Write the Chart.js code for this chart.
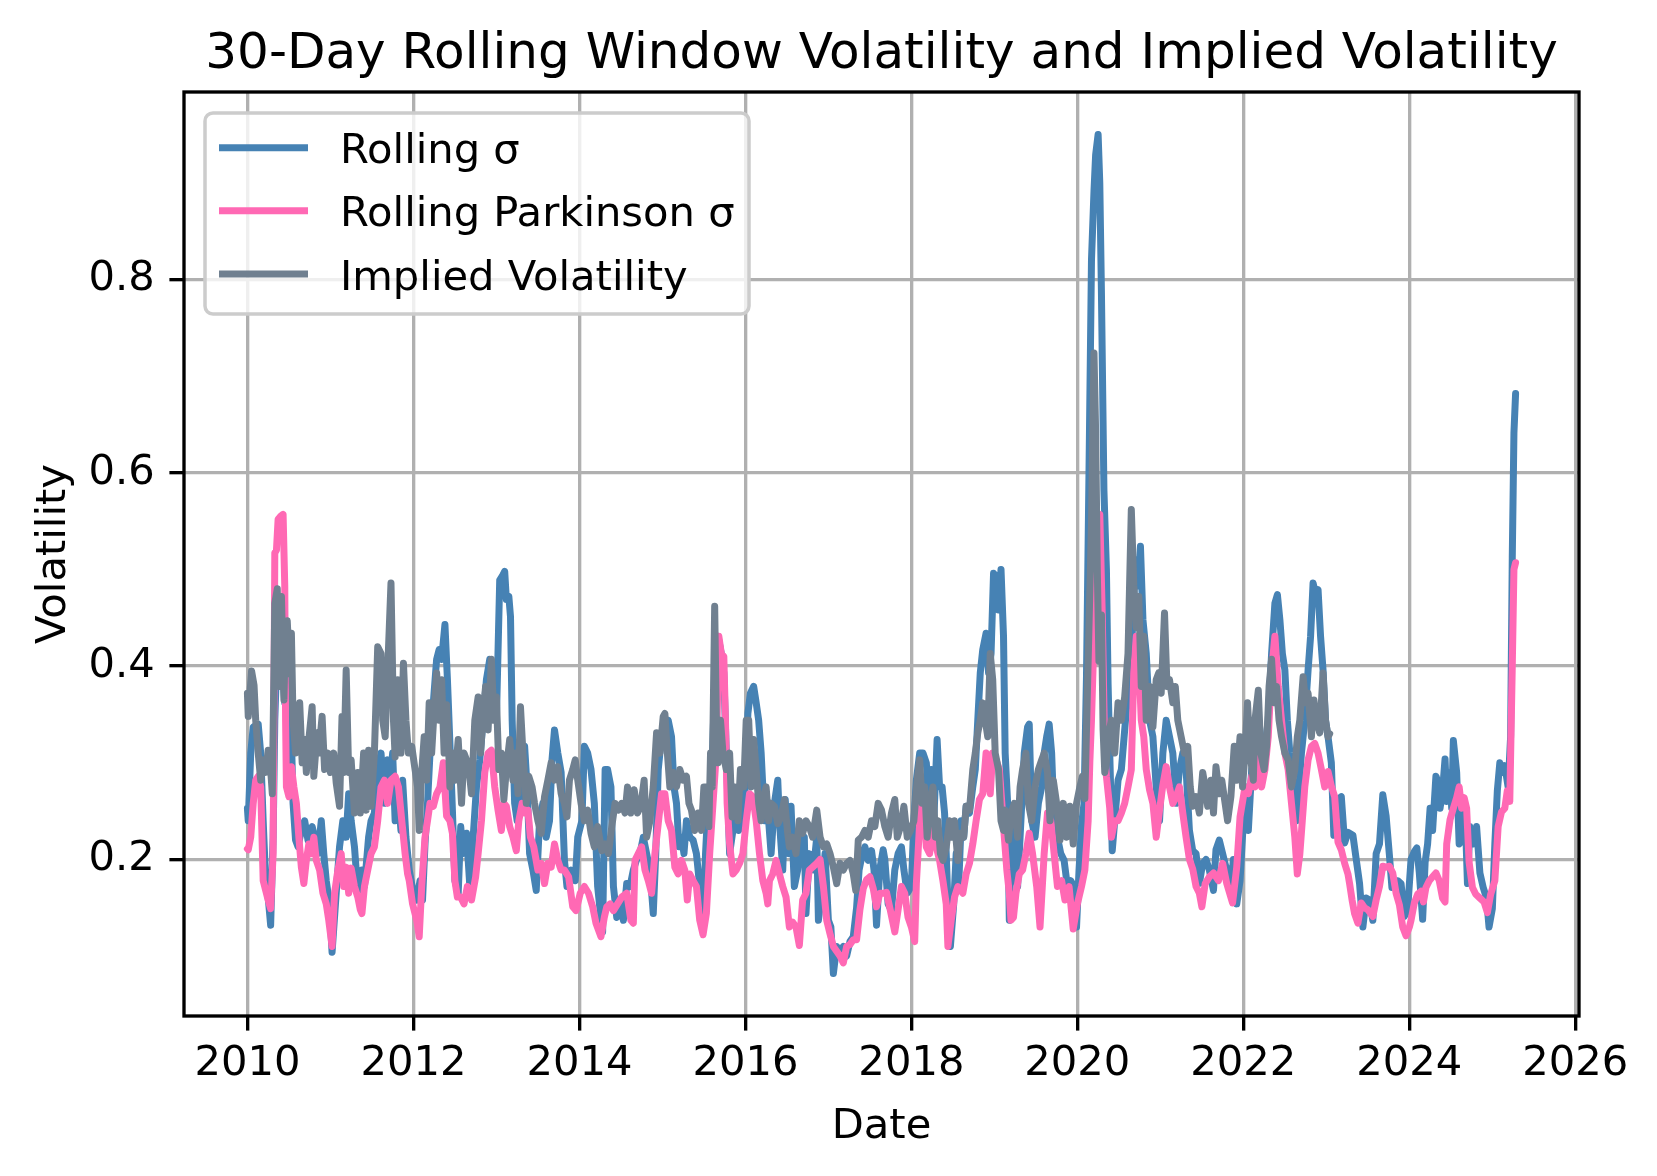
<!DOCTYPE html>
<html><head><meta charset="utf-8">
<script src="https://cdn.jsdelivr.net/npm/chart.js@4.4.1/dist/chart.umd.min.js"></script>
<style>html,body{margin:0;padding:0;background:#fff;}canvas{display:block;}</style>
</head><body>
<canvas id="c" width="1657" height="1176" style="width:1657px;height:1176px"></canvas>
<script>
const TITLE = "30-Day Rolling Window Volatility and Implied Volatility";
const X_LABEL = "Date";
const Y_LABEL = "Volatility";
const SERIES_NAMES = ["Rolling σ", "Rolling Parkinson σ", "Implied Volatility"];
const X_TICKS = [2010, 2012, 2014, 2016, 2018, 2020, 2022, 2024, 2026];
const Y_TICKS = [0.2, 0.4, 0.6, 0.8];

// [decimal year, value]
const rollingSigma = [
[2010.00,0.253],[2010.01,0.24],[2010.04,0.31],[2010.07,0.337],[2010.13,0.34],[2010.16,0.31],[2010.19,0.24],[2010.22,0.178],[2010.25,0.161],[2010.28,0.132],
[2010.31,0.223],[2010.33,0.344],[2010.37,0.448],[2010.41,0.413],[2010.45,0.362],[2010.48,0.44],[2010.53,0.327],[2010.55,0.258],[2010.58,0.22],[2010.61,0.213],
[2010.65,0.23],[2010.69,0.24],[2010.73,0.22],[2010.78,0.234],[2010.81,0.223],[2010.85,0.206],[2010.89,0.24],[2010.92,0.206],[2010.95,0.178],[2010.99,0.154],
[2011.02,0.104],[2011.07,0.165],[2011.11,0.213],[2011.15,0.24],[2011.19,0.223],[2011.22,0.268],[2011.25,0.24],[2011.29,0.213],[2011.32,0.178],[2011.35,0.165],
[2011.38,0.189],[2011.41,0.172],[2011.46,0.223],[2011.49,0.24],[2011.53,0.248],[2011.57,0.293],[2011.61,0.31],[2011.65,0.258],[2011.69,0.303],[2011.71,0.275],
[2011.75,0.31],[2011.78,0.24],[2011.81,0.275],[2011.85,0.23],[2011.87,0.282],[2011.91,0.223],[2011.95,0.189],[2012.00,0.165],[2012.04,0.158],[2012.08,0.178],
[2012.11,0.158],[2012.14,0.216],[2012.17,0.258],[2012.20,0.31],[2012.24,0.362],[2012.28,0.407],[2012.31,0.417],[2012.34,0.407],[2012.38,0.443],[2012.41,0.386],
[2012.46,0.275],[2012.50,0.178],[2012.54,0.165],[2012.57,0.234],[2012.60,0.206],[2012.64,0.227],[2012.68,0.172],[2012.72,0.223],[2012.76,0.275],[2012.80,0.303],
[2012.84,0.344],[2012.88,0.386],[2012.92,0.407],[2012.96,0.372],[2013.00,0.344],[2013.04,0.489],[2013.07,0.493],[2013.10,0.498],[2013.12,0.469],[2013.15,0.472],
[2013.17,0.451],[2013.19,0.344],[2013.22,0.258],[2013.25,0.24],[2013.28,0.258],[2013.31,0.275],[2013.34,0.317],[2013.37,0.275],[2013.40,0.206],[2013.44,0.189],
[2013.48,0.168],[2013.52,0.24],[2013.56,0.258],[2013.60,0.223],[2013.64,0.24],[2013.67,0.303],[2013.70,0.334],[2013.74,0.31],[2013.78,0.29],[2013.82,0.199],
[2013.85,0.172],[2013.90,0.189],[2013.95,0.178],[2013.98,0.223],[2014.03,0.24],[2014.06,0.317],[2014.10,0.31],[2014.14,0.293],[2014.18,0.258],[2014.22,0.172],
[2014.25,0.147],[2014.28,0.125],[2014.31,0.293],[2014.34,0.293],[2014.38,0.275],[2014.41,0.172],[2014.45,0.14],[2014.49,0.154],[2014.53,0.137],[2014.57,0.175],
[2014.61,0.172],[2014.65,0.189],[2014.69,0.2],[2014.73,0.206],[2014.77,0.223],[2014.81,0.206],[2014.85,0.189],[2014.89,0.144],[2014.92,0.206],[2014.95,0.293],
[2014.99,0.327],[2015.03,0.327],[2015.07,0.344],[2015.11,0.327],[2015.14,0.275],[2015.17,0.258],[2015.20,0.213],[2015.23,0.223],[2015.26,0.206],[2015.29,0.24],
[2015.33,0.223],[2015.37,0.22],[2015.41,0.206],[2015.45,0.172],[2015.49,0.13],[2015.52,0.206],[2015.55,0.258],[2015.59,0.275],[2015.63,0.379],[2015.67,0.431],
[2015.71,0.413],[2015.74,0.393],[2015.77,0.31],[2015.81,0.206],[2015.85,0.23],[2015.89,0.258],[2015.92,0.23],[2015.96,0.24],[2016.00,0.275],[2016.03,0.351],
[2016.06,0.372],[2016.10,0.379],[2016.13,0.362],[2016.16,0.344],[2016.19,0.31],[2016.23,0.24],[2016.25,0.258],[2016.28,0.24],[2016.31,0.206],[2016.35,0.258],
[2016.39,0.282],[2016.41,0.24],[2016.45,0.189],[2016.48,0.262],[2016.52,0.206],[2016.55,0.255],[2016.59,0.172],[2016.63,0.189],[2016.67,0.223],[2016.71,0.223],
[2016.73,0.144],[2016.77,0.206],[2016.82,0.189],[2016.86,0.223],[2016.88,0.137],[2016.92,0.165],[2016.96,0.206],[2017.00,0.137],[2017.03,0.13],[2017.06,0.082],
[2017.10,0.11],[2017.14,0.105],[2017.18,0.11],[2017.22,0.10],[2017.26,0.115],[2017.30,0.12],[2017.34,0.15],[2017.37,0.189],[2017.41,0.206],[2017.44,0.213],
[2017.48,0.199],[2017.52,0.209],[2017.55,0.189],[2017.58,0.132],[2017.62,0.19],[2017.66,0.21],[2017.68,0.2],[2017.72,0.154],[2017.76,0.147],[2017.80,0.189],
[2017.84,0.206],[2017.88,0.213],[2017.91,0.189],[2017.95,0.165],[2018.00,0.172],[2018.03,0.24],[2018.06,0.282],[2018.10,0.31],[2018.14,0.31],[2018.18,0.30],
[2018.21,0.258],[2018.24,0.293],[2018.27,0.24],[2018.31,0.324],[2018.34,0.275],[2018.37,0.275],[2018.40,0.248],[2018.42,0.206],[2018.45,0.13],[2018.47,0.11],
[2018.51,0.154],[2018.54,0.206],[2018.57,0.172],[2018.60,0.24],[2018.63,0.223],[2018.66,0.255],[2018.70,0.248],[2018.74,0.275],[2018.77,0.293],[2018.80,0.344],
[2018.83,0.393],[2018.86,0.417],[2018.90,0.434],[2018.93,0.393],[2018.96,0.413],[2018.99,0.496],[2019.02,0.493],[2019.05,0.458],[2019.08,0.50],[2019.11,0.431],
[2019.13,0.31],[2019.16,0.258],[2019.18,0.137],[2019.21,0.24],[2019.25,0.189],[2019.28,0.172],[2019.30,0.206],[2019.33,0.258],[2019.36,0.31],[2019.40,0.337],
[2019.42,0.34],[2019.45,0.24],[2019.49,0.223],[2019.53,0.258],[2019.57,0.275],[2019.60,0.31],[2019.63,0.327],[2019.66,0.34],[2019.69,0.31],[2019.72,0.24],
[2019.76,0.223],[2019.80,0.206],[2019.84,0.199],[2019.88,0.172],[2019.92,0.178],[2019.96,0.172],[2019.99,0.13],[2020.02,0.189],[2020.05,0.235],[2020.08,0.258],
[2020.11,0.39],[2020.14,0.60],[2020.17,0.82],[2020.20,0.891],[2020.22,0.929],[2020.25,0.95],[2020.27,0.90],[2020.29,0.786],[2020.32,0.582],[2020.35,0.50],
[2020.37,0.382],[2020.39,0.31],[2020.42,0.209],[2020.45,0.24],[2020.49,0.282],[2020.53,0.293],[2020.58,0.344],[2020.62,0.386],[2020.66,0.431],[2020.70,0.51],
[2020.73,0.483],[2020.76,0.524],[2020.79,0.448],[2020.83,0.413],[2020.87,0.344],[2020.91,0.327],[2020.95,0.275],[2020.99,0.24],[2021.03,0.31],[2021.07,0.344],
[2021.11,0.327],[2021.15,0.31],[2021.19,0.258],[2021.23,0.293],[2021.27,0.31],[2021.31,0.293],[2021.35,0.23],[2021.39,0.209],[2021.43,0.206],[2021.47,0.175],
[2021.51,0.196],[2021.55,0.2],[2021.59,0.189],[2021.64,0.168],[2021.67,0.21],[2021.71,0.22],[2021.75,0.206],[2021.79,0.192],[2021.82,0.189],[2021.85,0.172],
[2021.88,0.2],[2021.92,0.154],[2021.96,0.178],[2022.00,0.24],[2022.03,0.275],[2022.06,0.23],[2022.10,0.293],[2022.14,0.31],[2022.18,0.293],[2022.22,0.31],
[2022.26,0.317],[2022.30,0.344],[2022.34,0.413],[2022.38,0.465],[2022.41,0.474],[2022.44,0.448],[2022.47,0.413],[2022.50,0.396],[2022.53,0.344],[2022.56,0.31],
[2022.60,0.275],[2022.64,0.24],[2022.67,0.275],[2022.70,0.31],[2022.74,0.344],[2022.78,0.396],[2022.81,0.431],[2022.84,0.486],[2022.87,0.475],[2022.90,0.479],
[2022.93,0.431],[2022.96,0.396],[2022.99,0.344],[2023.02,0.327],[2023.06,0.30],[2023.09,0.225],[2023.14,0.262],[2023.18,0.265],[2023.22,0.217],[2023.26,0.228],
[2023.32,0.225],[2023.36,0.2],[2023.40,0.175],[2023.44,0.13],[2023.48,0.16],[2023.52,0.158],[2023.56,0.137],[2023.60,0.206],[2023.64,0.216],[2023.68,0.267],
[2023.72,0.245],[2023.76,0.204],[2023.79,0.171],[2023.82,0.178],[2023.86,0.178],[2023.90,0.175],[2023.94,0.141],[2023.98,0.149],[2024.02,0.2],[2024.06,0.208],
[2024.09,0.212],[2024.12,0.186],[2024.16,0.138],[2024.19,0.197],[2024.22,0.216],[2024.25,0.253],[2024.28,0.23],[2024.32,0.286],[2024.35,0.279],[2024.37,0.253],
[2024.40,0.271],[2024.43,0.304],[2024.45,0.26],[2024.49,0.29],[2024.51,0.253],[2024.53,0.323],[2024.57,0.29],[2024.60,0.216],[2024.63,0.219],[2024.67,0.253],
[2024.70,0.175],[2024.73,0.234],[2024.77,0.216],[2024.81,0.234],[2024.85,0.186],[2024.89,0.171],[2024.93,0.16],[2024.96,0.13],[2025.00,0.149],[2025.03,0.216],
[2025.06,0.271],[2025.09,0.30],[2025.12,0.29],[2025.15,0.297],[2025.19,0.275],[2025.22,0.327],[2025.24,0.512],[2025.26,0.641],[2025.28,0.682]
];

const parkinsonSigma = [
[2010.00,0.211],[2010.01,0.21],[2010.04,0.223],[2010.07,0.258],[2010.10,0.282],[2010.13,0.286],[2010.16,0.275],[2010.19,0.178],[2010.22,0.168],[2010.25,0.158],
[2010.28,0.149],[2010.31,0.206],[2010.33,0.517],[2010.35,0.52],[2010.37,0.552],[2010.40,0.555],[2010.43,0.557],[2010.45,0.483],[2010.46,0.344],[2010.47,0.275],
[2010.50,0.265],[2010.53,0.296],[2010.56,0.275],[2010.59,0.258],[2010.62,0.223],[2010.65,0.192],[2010.68,0.175],[2010.71,0.199],[2010.74,0.216],[2010.77,0.206],
[2010.80,0.223],[2010.83,0.199],[2010.87,0.189],[2010.91,0.165],[2010.95,0.154],[2010.98,0.137],[2011.02,0.11],[2011.05,0.165],[2011.09,0.189],[2011.13,0.206],
[2011.16,0.172],[2011.19,0.192],[2011.22,0.165],[2011.25,0.191],[2011.29,0.172],[2011.33,0.161],[2011.36,0.148],[2011.38,0.144],[2011.41,0.172],[2011.45,0.189],
[2011.49,0.206],[2011.53,0.213],[2011.57,0.24],[2011.61,0.275],[2011.65,0.282],[2011.69,0.258],[2011.73,0.282],[2011.78,0.286],[2011.82,0.275],[2011.86,0.24],
[2011.90,0.206],[2011.93,0.185],[2011.95,0.178],[2011.99,0.154],[2012.04,0.137],[2012.07,0.12],[2012.10,0.172],[2012.14,0.223],[2012.17,0.24],[2012.20,0.258],
[2012.24,0.255],[2012.28,0.268],[2012.32,0.275],[2012.36,0.30],[2012.40,0.245],[2012.44,0.24],[2012.47,0.227],[2012.50,0.178],[2012.53,0.161],[2012.57,0.161],
[2012.61,0.154],[2012.65,0.172],[2012.70,0.158],[2012.75,0.182],[2012.78,0.206],[2012.82,0.24],[2012.86,0.29],[2012.90,0.31],[2012.94,0.313],[2012.98,0.275],
[2013.02,0.251],[2013.06,0.23],[2013.09,0.258],[2013.12,0.255],[2013.16,0.234],[2013.20,0.223],[2013.24,0.209],[2013.27,0.24],[2013.31,0.258],[2013.34,0.248],
[2013.38,0.251],[2013.41,0.223],[2013.45,0.213],[2013.50,0.189],[2013.54,0.196],[2013.58,0.175],[2013.62,0.196],[2013.66,0.192],[2013.70,0.216],[2013.74,0.199],
[2013.78,0.189],[2013.82,0.189],[2013.87,0.182],[2013.92,0.151],[2013.96,0.147],[2014.01,0.165],[2014.06,0.172],[2014.11,0.165],[2014.16,0.151],[2014.20,0.134],
[2014.26,0.12],[2014.30,0.14],[2014.33,0.151],[2014.37,0.154],[2014.41,0.147],[2014.46,0.154],[2014.51,0.161],[2014.57,0.165],[2014.62,0.137],[2014.65,0.134],
[2014.67,0.199],[2014.71,0.206],[2014.75,0.213],[2014.79,0.189],[2014.83,0.178],[2014.87,0.165],[2014.91,0.206],[2014.95,0.237],[2014.99,0.268],[2015.03,0.268],
[2015.07,0.24],[2015.11,0.23],[2015.15,0.192],[2015.19,0.185],[2015.23,0.199],[2015.27,0.189],[2015.30,0.158],[2015.33,0.185],[2015.37,0.178],[2015.41,0.172],
[2015.45,0.137],[2015.49,0.122],[2015.53,0.144],[2015.57,0.206],[2015.61,0.258],[2015.65,0.31],[2015.68,0.431],[2015.71,0.413],[2015.74,0.41],[2015.76,0.344],
[2015.78,0.258],[2015.81,0.216],[2015.85,0.185],[2015.89,0.189],[2015.93,0.196],[2015.97,0.206],[2016.01,0.24],[2016.05,0.268],[2016.09,0.265],[2016.13,0.24],
[2016.17,0.206],[2016.21,0.178],[2016.25,0.165],[2016.27,0.154],[2016.29,0.178],[2016.33,0.185],[2016.37,0.199],[2016.41,0.185],[2016.45,0.172],[2016.49,0.161],
[2016.53,0.13],[2016.57,0.135],[2016.61,0.13],[2016.65,0.111],[2016.69,0.158],[2016.73,0.165],[2016.77,0.189],[2016.81,0.192],[2016.86,0.196],[2016.90,0.2],
[2016.94,0.172],[2016.98,0.137],[2017.02,0.123],[2017.06,0.11],[2017.10,0.105],[2017.14,0.10],[2017.18,0.093],[2017.22,0.11],[2017.26,0.112],[2017.30,0.117],
[2017.34,0.117],[2017.38,0.148],[2017.42,0.17],[2017.46,0.179],[2017.50,0.182],[2017.54,0.17],[2017.58,0.151],[2017.62,0.165],[2017.66,0.165],[2017.70,0.166],
[2017.74,0.15],[2017.80,0.125],[2017.84,0.148],[2017.88,0.172],[2017.92,0.165],[2017.96,0.14],[2018.00,0.13],[2018.04,0.115],[2018.06,0.175],[2018.08,0.206],
[2018.11,0.255],[2018.14,0.265],[2018.18,0.213],[2018.22,0.206],[2018.26,0.24],[2018.30,0.213],[2018.34,0.199],[2018.38,0.178],[2018.42,0.154],[2018.44,0.11],
[2018.48,0.137],[2018.52,0.161],[2018.56,0.172],[2018.62,0.165],[2018.66,0.185],[2018.70,0.196],[2018.74,0.216],[2018.78,0.24],[2018.82,0.262],[2018.86,0.268],
[2018.90,0.31],[2018.93,0.282],[2018.95,0.268],[2018.98,0.31],[2019.02,0.303],[2019.06,0.293],[2019.09,0.258],[2019.12,0.223],[2019.15,0.189],[2019.18,0.165],
[2019.20,0.137],[2019.23,0.14],[2019.26,0.165],[2019.30,0.185],[2019.34,0.189],[2019.38,0.206],[2019.42,0.227],[2019.46,0.206],[2019.51,0.172],[2019.55,0.13],
[2019.60,0.206],[2019.64,0.248],[2019.68,0.24],[2019.72,0.206],[2019.76,0.172],[2019.81,0.178],[2019.85,0.158],[2019.90,0.172],[2019.95,0.128],[2020.00,0.154],
[2020.05,0.172],[2020.09,0.189],[2020.13,0.24],[2020.15,0.30],[2020.17,0.344],[2020.20,0.43],[2020.23,0.50],[2020.27,0.557],[2020.30,0.453],[2020.33,0.31],
[2020.35,0.286],[2020.39,0.253],[2020.41,0.223],[2020.45,0.24],[2020.49,0.24],[2020.53,0.248],[2020.57,0.258],[2020.61,0.275],[2020.65,0.293],[2020.68,0.396],
[2020.71,0.431],[2020.74,0.407],[2020.77,0.344],[2020.80,0.327],[2020.83,0.293],[2020.87,0.272],[2020.91,0.258],[2020.95,0.223],[2020.99,0.251],[2021.03,0.277],
[2021.07,0.296],[2021.11,0.275],[2021.15,0.258],[2021.19,0.265],[2021.23,0.275],[2021.27,0.248],[2021.31,0.223],[2021.35,0.2],[2021.39,0.19],[2021.43,0.172],
[2021.47,0.165],[2021.50,0.151],[2021.54,0.175],[2021.59,0.182],[2021.64,0.186],[2021.70,0.178],[2021.75,0.196],[2021.80,0.175],[2021.87,0.155],[2021.92,0.192],
[2021.96,0.244],[2022.02,0.275],[2022.06,0.268],[2022.10,0.286],[2022.14,0.275],[2022.18,0.31],[2022.22,0.275],[2022.26,0.293],[2022.30,0.327],[2022.33,0.379],
[2022.36,0.413],[2022.38,0.431],[2022.42,0.379],[2022.46,0.344],[2022.50,0.31],[2022.54,0.293],[2022.58,0.258],[2022.62,0.223],[2022.65,0.185],[2022.68,0.205],
[2022.71,0.24],[2022.74,0.275],[2022.78,0.303],[2022.82,0.317],[2022.86,0.32],[2022.90,0.31],[2022.94,0.293],[2022.98,0.275],[2023.02,0.291],[2023.06,0.276],
[2023.10,0.265],[2023.14,0.218],[2023.18,0.21],[2023.22,0.196],[2023.26,0.185],[2023.28,0.175],[2023.31,0.158],[2023.34,0.144],[2023.38,0.134],[2023.42,0.155],
[2023.46,0.15],[2023.50,0.148],[2023.56,0.141],[2023.60,0.158],[2023.64,0.172],[2023.68,0.193],[2023.72,0.192],[2023.76,0.193],[2023.80,0.186],[2023.84,0.165],
[2023.88,0.153],[2023.92,0.13],[2023.96,0.121],[2024.00,0.13],[2024.02,0.137],[2024.06,0.155],[2024.10,0.164],[2024.14,0.167],[2024.17,0.156],[2024.20,0.171],
[2024.24,0.178],[2024.28,0.182],[2024.32,0.186],[2024.36,0.178],[2024.40,0.16],[2024.43,0.156],[2024.45,0.216],[2024.49,0.241],[2024.53,0.253],[2024.57,0.264],
[2024.60,0.275],[2024.63,0.253],[2024.66,0.264],[2024.69,0.253],[2024.72,0.197],[2024.76,0.171],[2024.80,0.164],[2024.85,0.16],[2024.90,0.156],[2024.94,0.145],
[2024.98,0.164],[2025.03,0.178],[2025.07,0.234],[2025.11,0.249],[2025.15,0.253],[2025.18,0.271],[2025.21,0.26],[2025.24,0.40],[2025.26,0.50],[2025.28,0.507]
];

const impliedVol = [
[2010.00,0.372],[2010.01,0.348],[2010.05,0.395],[2010.08,0.38],[2010.10,0.344],[2010.13,0.31],[2010.16,0.282],[2010.19,0.303],[2010.22,0.29],[2010.25,0.313],
[2010.28,0.293],[2010.30,0.268],[2010.33,0.465],[2010.36,0.48],[2010.38,0.379],[2010.41,0.472],[2010.44,0.365],[2010.46,0.44],[2010.48,0.447],[2010.51,0.392],
[2010.53,0.434],[2010.55,0.344],[2010.58,0.31],[2010.60,0.324],[2010.63,0.362],[2010.66,0.30],[2010.69,0.324],[2010.71,0.29],[2010.74,0.324],[2010.78,0.358],
[2010.80,0.286],[2010.84,0.331],[2010.86,0.31],[2010.90,0.348],[2010.93,0.293],[2010.97,0.31],[2011.00,0.29],[2011.04,0.31],[2011.07,0.279],[2011.11,0.255],
[2011.14,0.348],[2011.16,0.29],[2011.19,0.396],[2011.22,0.29],[2011.25,0.303],[2011.29,0.248],[2011.33,0.29],[2011.36,0.248],[2011.40,0.31],[2011.43,0.251],
[2011.46,0.313],[2011.49,0.255],[2011.53,0.31],[2011.57,0.42],[2011.61,0.413],[2011.63,0.344],[2011.66,0.327],[2011.69,0.396],[2011.73,0.486],[2011.76,0.344],
[2011.78,0.306],[2011.81,0.386],[2011.85,0.31],[2011.88,0.403],[2011.91,0.344],[2011.94,0.31],[2011.98,0.317],[2012.02,0.293],[2012.05,0.275],[2012.07,0.23],
[2012.10,0.29],[2012.13,0.327],[2012.16,0.282],[2012.19,0.362],[2012.22,0.31],[2012.25,0.355],[2012.28,0.393],[2012.31,0.344],[2012.34,0.386],[2012.37,0.31],
[2012.40,0.36],[2012.42,0.327],[2012.44,0.275],[2012.47,0.31],[2012.50,0.282],[2012.54,0.324],[2012.58,0.258],[2012.61,0.31],[2012.64,0.303],[2012.67,0.293],
[2012.70,0.268],[2012.74,0.344],[2012.78,0.368],[2012.81,0.31],[2012.84,0.351],[2012.87,0.379],[2012.90,0.334],[2012.94,0.407],[2012.97,0.344],[2013.00,0.368],
[2013.03,0.293],[2013.06,0.31],[2013.09,0.262],[2013.12,0.293],[2013.16,0.324],[2013.20,0.282],[2013.23,0.31],[2013.26,0.268],[2013.29,0.358],[2013.32,0.31],
[2013.36,0.258],[2013.39,0.286],[2013.43,0.275],[2013.46,0.258],[2013.50,0.24],[2013.54,0.227],[2013.58,0.265],[2013.62,0.282],[2013.66,0.30],[2013.70,0.282],
[2013.74,0.296],[2013.78,0.268],[2013.82,0.258],[2013.85,0.244],[2013.88,0.282],[2013.92,0.293],[2013.95,0.303],[2013.98,0.282],[2014.02,0.258],[2014.06,0.24],
[2014.10,0.251],[2014.14,0.227],[2014.18,0.213],[2014.22,0.234],[2014.27,0.209],[2014.31,0.216],[2014.35,0.206],[2014.39,0.234],[2014.43,0.258],[2014.47,0.251],
[2014.51,0.258],[2014.55,0.248],[2014.58,0.275],[2014.62,0.248],[2014.66,0.272],[2014.70,0.248],[2014.74,0.255],[2014.78,0.282],[2014.81,0.223],[2014.85,0.24],
[2014.89,0.275],[2014.93,0.331],[2014.97,0.31],[2015.01,0.348],[2015.03,0.351],[2015.06,0.31],[2015.09,0.275],[2015.13,0.29],[2015.17,0.275],[2015.21,0.293],
[2015.25,0.282],[2015.29,0.286],[2015.32,0.258],[2015.35,0.251],[2015.39,0.23],[2015.43,0.248],[2015.47,0.23],[2015.50,0.275],[2015.53,0.275],[2015.56,0.234],
[2015.58,0.31],[2015.60,0.275],[2015.63,0.462],[2015.65,0.344],[2015.67,0.30],[2015.70,0.344],[2015.73,0.31],[2015.77,0.293],[2015.81,0.31],[2015.84,0.244],
[2015.87,0.275],[2015.91,0.24],[2015.94,0.293],[2015.98,0.275],[2016.01,0.344],[2016.04,0.344],[2016.07,0.275],[2016.10,0.324],[2016.13,0.293],[2016.16,0.258],
[2016.19,0.24],[2016.23,0.268],[2016.25,0.275],[2016.28,0.24],[2016.31,0.258],[2016.35,0.255],[2016.39,0.237],[2016.43,0.244],[2016.47,0.262],[2016.51,0.227],
[2016.53,0.213],[2016.57,0.223],[2016.61,0.206],[2016.65,0.24],[2016.69,0.227],[2016.73,0.24],[2016.77,0.234],[2016.81,0.223],[2016.86,0.251],[2016.90,0.223],
[2016.94,0.213],[2016.98,0.216],[2017.02,0.206],[2017.06,0.192],[2017.10,0.175],[2017.14,0.196],[2017.18,0.189],[2017.22,0.196],[2017.26,0.199],[2017.30,0.185],
[2017.33,0.168],[2017.36,0.22],[2017.40,0.223],[2017.44,0.23],[2017.48,0.223],[2017.52,0.24],[2017.56,0.234],[2017.60,0.258],[2017.64,0.251],[2017.68,0.234],
[2017.72,0.223],[2017.76,0.248],[2017.80,0.262],[2017.83,0.223],[2017.87,0.234],[2017.91,0.255],[2017.95,0.223],[2017.99,0.23],[2018.03,0.24],[2018.07,0.282],
[2018.10,0.303],[2018.13,0.258],[2018.16,0.275],[2018.19,0.223],[2018.22,0.258],[2018.26,0.275],[2018.29,0.223],[2018.32,0.24],[2018.35,0.206],[2018.38,0.199],
[2018.42,0.213],[2018.46,0.24],[2018.49,0.223],[2018.52,0.24],[2018.56,0.199],[2018.59,0.227],[2018.63,0.223],[2018.66,0.255],[2018.70,0.251],[2018.74,0.293],
[2018.77,0.31],[2018.80,0.331],[2018.83,0.344],[2018.86,0.362],[2018.89,0.344],[2018.92,0.327],[2018.95,0.413],[2018.98,0.386],[2019.01,0.31],[2019.05,0.293],
[2019.08,0.24],[2019.11,0.23],[2019.13,0.251],[2019.17,0.22],[2019.20,0.248],[2019.24,0.258],[2019.28,0.223],[2019.31,0.275],[2019.34,0.293],[2019.38,0.31],
[2019.41,0.258],[2019.45,0.24],[2019.49,0.275],[2019.53,0.293],[2019.57,0.303],[2019.60,0.31],[2019.64,0.29],[2019.67,0.24],[2019.71,0.282],[2019.75,0.258],
[2019.79,0.22],[2019.83,0.258],[2019.87,0.223],[2019.91,0.255],[2019.95,0.216],[2019.99,0.258],[2020.03,0.275],[2020.06,0.286],[2020.09,0.263],[2020.13,0.405],
[2020.17,0.548],[2020.20,0.724],[2020.22,0.643],[2020.24,0.50],[2020.26,0.405],[2020.29,0.453],[2020.31,0.334],[2020.33,0.29],[2020.35,0.30],[2020.37,0.327],
[2020.41,0.344],[2020.45,0.31],[2020.49,0.362],[2020.53,0.344],[2020.57,0.368],[2020.61,0.413],[2020.65,0.562],[2020.68,0.483],[2020.71,0.44],[2020.74,0.472],
[2020.77,0.379],[2020.80,0.431],[2020.83,0.344],[2020.87,0.379],[2020.91,0.337],[2020.95,0.386],[2020.98,0.393],[2021.01,0.372],[2021.05,0.455],[2021.08,0.379],
[2021.11,0.386],[2021.15,0.362],[2021.18,0.379],[2021.21,0.344],[2021.25,0.327],[2021.29,0.31],[2021.33,0.317],[2021.36,0.275],[2021.39,0.255],[2021.43,0.265],
[2021.47,0.248],[2021.51,0.29],[2021.54,0.275],[2021.57,0.255],[2021.61,0.282],[2021.64,0.248],[2021.67,0.296],[2021.71,0.268],[2021.74,0.282],[2021.78,0.258],
[2021.81,0.24],[2021.85,0.265],[2021.89,0.317],[2021.92,0.282],[2021.96,0.327],[2021.99,0.275],[2022.02,0.31],[2022.05,0.362],[2022.08,0.31],[2022.12,0.282],
[2022.14,0.344],[2022.18,0.375],[2022.21,0.31],[2022.25,0.293],[2022.28,0.317],[2022.31,0.379],[2022.34,0.407],[2022.37,0.362],[2022.40,0.379],[2022.43,0.344],
[2022.46,0.327],[2022.50,0.31],[2022.54,0.303],[2022.58,0.275],[2022.62,0.293],[2022.65,0.327],[2022.68,0.344],[2022.72,0.389],[2022.75,0.362],[2022.78,0.372],
[2022.82,0.327],[2022.85,0.365],[2022.88,0.344],[2022.92,0.331],[2022.96,0.393],[2022.99,0.344],[2023.02,0.327],[2023.04,0.33]
];

const FONT = "'DejaVu Sans', sans-serif";
const PX = { left: 184, right: 1579, top: 92, bottom: 1016 };
const LINE_W = 7;

const decor = {
  id: 'decor',
  afterDatasetsDraw(chart) {
    const { ctx, chartArea: a } = chart;
    ctx.save();
    ctx.strokeStyle = '#000';
    ctx.lineWidth = 3.33;
    ctx.lineJoin = 'miter';
    ctx.strokeRect(a.left, a.top, a.right - a.left, a.bottom - a.top);
    ctx.restore();
  },
  afterDraw(chart) {
    const { ctx, chartArea: a } = chart;
    ctx.save();
    ctx.fillStyle = '#000';
    ctx.font = "50px " + FONT;
    ctx.textAlign = 'center';
    ctx.textBaseline = 'alphabetic';
    ctx.fillText(TITLE, (a.left + a.right) / 2, 68);
    ctx.font = "41.67px " + FONT;
    ctx.fillText(X_LABEL, (a.left + a.right) / 2, 1138);
    ctx.save();
    ctx.translate(65, (a.top + a.bottom) / 2);
    ctx.rotate(-Math.PI / 2);
    ctx.fillText(Y_LABEL, 0, 0);
    ctx.restore();
    const bx = 205, by = 113, bw = 544, bh = 201, r = 8;
    ctx.beginPath();
    ctx.moveTo(bx + r, by);
    ctx.arcTo(bx + bw, by, bx + bw, by + bh, r);
    ctx.arcTo(bx + bw, by + bh, bx, by + bh, r);
    ctx.arcTo(bx, by + bh, bx, by, r);
    ctx.arcTo(bx, by, bx + bw, by, r);
    ctx.closePath();
    ctx.fillStyle = 'rgba(255,255,255,0.8)';
    ctx.fill();
    ctx.strokeStyle = '#cccccc';
    ctx.lineWidth = 3.5;
    ctx.stroke();
    const rows = [147.7, 210.7, 274];
    chart.data.datasets.forEach((ds, i) => {
      ctx.beginPath();
      ctx.moveTo(219, rows[i]);
      ctx.lineTo(308, rows[i]);
      ctx.strokeStyle = ds.borderColor;
      ctx.lineWidth = LINE_W;
      ctx.lineCap = 'butt';
      ctx.stroke();
      ctx.fillStyle = '#000';
      ctx.textAlign = 'left';
      ctx.font = "41.67px " + FONT;
      ctx.fillText(ds.label, 340, rows[i] + 15.5);
    });
    ctx.restore();
  }
};

const lineStyle = { pointRadius: 0, borderWidth: LINE_W, tension: 0, fill: false, borderJoinStyle: 'round', borderCapStyle: 'round' };

new Chart(document.getElementById('c'), {
  type: 'line',
  data: {
    datasets: [
      Object.assign({ label: SERIES_NAMES[0], data: rollingSigma.map(([x, y]) => ({ x, y })), borderColor: '#4682B4', order: 3 }, lineStyle),
      Object.assign({ label: SERIES_NAMES[1], data: parkinsonSigma.map(([x, y]) => ({ x, y })), borderColor: '#FF69B4', order: 2 }, lineStyle),
      Object.assign({ label: SERIES_NAMES[2], data: impliedVol.map(([x, y]) => ({ x, y })), borderColor: '#708090', order: 1 }, lineStyle)
    ]
  },
  options: {
    responsive: false,
    devicePixelRatio: 1,
    animation: false,
    events: [],
    layout: { padding: { top: PX.top, right: 1657 - PX.right, bottom: 0, left: 0 }, autoPadding: false },
    plugins: { legend: { display: false }, title: { display: false }, tooltip: { enabled: false } },
    scales: {
      x: {
        type: 'linear', min: 2009.236, max: 2026.044,
        afterBuildTicks: s => { s.ticks = X_TICKS.map(v => ({ value: v })); },
        afterFit: s => { s.height = 1176 - PX.bottom; },
        grid: { color: '#b0b0b0', lineWidth: 3.33, drawTicks: true, tickLength: 14.6, tickColor: '#000', tickWidth: 3.33 },
        border: { display: false },
        ticks: { color: '#000', font: { family: FONT, size: 41.67, lineHeight: 1 }, padding: 13, maxRotation: 0, minRotation: 0, autoSkip: false, callback: v => String(v) }
      },
      y: {
        type: 'linear', min: 0.038, max: 0.994,
        afterBuildTicks: s => { s.ticks = Y_TICKS.map(v => ({ value: v })); },
        afterFit: s => { s.width = PX.left; },
        grid: { color: '#b0b0b0', lineWidth: 3.33, drawTicks: true, tickLength: 14.6, tickColor: '#000', tickWidth: 3.33 },
        border: { display: false },
        ticks: { color: '#000', font: { family: FONT, size: 41.67, lineHeight: 1 }, padding: 14.6, autoSkip: false, callback: v => Number(v).toFixed(1) }
      }
    }
  },
  plugins: [decor]
});
</script>
</body></html>
